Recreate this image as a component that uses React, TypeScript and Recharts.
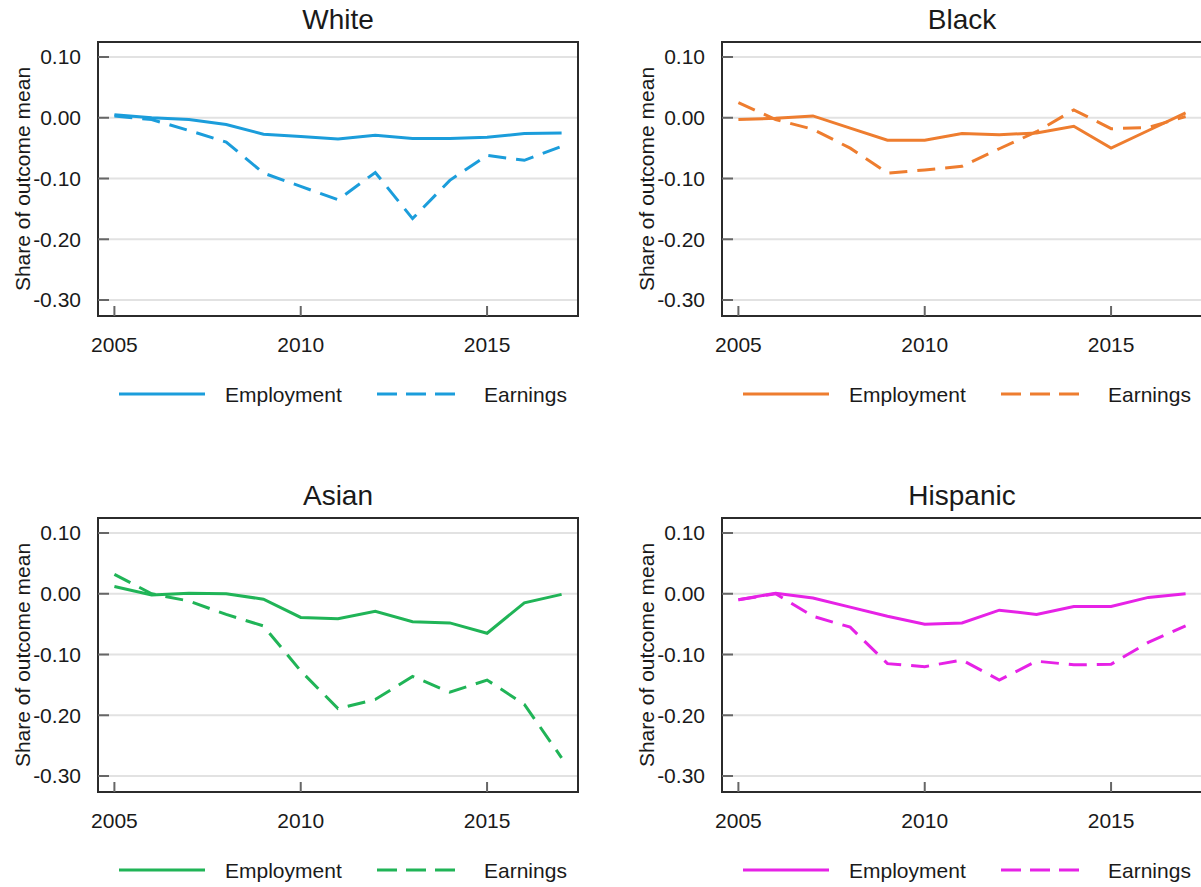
import React from 'react'
import {
  LineChart, Line, XAxis, YAxis, CartesianGrid, ReferenceArea, Legend,
} from 'recharts'

const years = [2005, 2006, 2007, 2008, 2009, 2010, 2011, 2012, 2013, 2014, 2015, 2016, 2017]

const whiteEmployment = [0.005, 0.0, -0.003, -0.011, -0.027, -0.031, -0.035, -0.029, -0.034, -0.034, -0.032, -0.026, -0.025]
const whiteEarnings = [0.003, -0.003, -0.021, -0.04, -0.091, -0.113, -0.135, -0.09, -0.166, -0.103, -0.062, -0.07, -0.047]

const blackEmployment = [-0.003, -0.001, 0.003, -0.017, -0.037, -0.037, -0.026, -0.028, -0.025, -0.014, -0.05, -0.021, 0.008]
const blackEarnings = [0.025, -0.003, -0.019, -0.05, -0.091, -0.086, -0.08, -0.051, -0.023, 0.013, -0.018, -0.016, 0.002]

const asianEmployment = [0.012, -0.002, 0.001, 0.0, -0.009, -0.039, -0.041, -0.029, -0.046, -0.048, -0.065, -0.015, -0.001]
const asianEarnings = [0.032, 0.0, -0.012, -0.034, -0.053, -0.127, -0.189, -0.174, -0.136, -0.162, -0.142, -0.182, -0.27]

const hispanicEmployment = [-0.01, 0.001, -0.007, -0.022, -0.037, -0.05, -0.048, -0.027, -0.034, -0.021, -0.021, -0.006, 0.0]
const hispanicEarnings = [-0.01, 0.0, -0.037, -0.055, -0.115, -0.12, -0.109, -0.142, -0.111, -0.117, -0.116, -0.08, -0.053]

const xTicks = [2005, 2010, 2015]
const yTicks = [0.1, 0.0, -0.1, -0.2, -0.3]

const FONT = "'Liberation Sans', Arial, sans-serif"
const TEXT = '#1a1a1a'
const X_DOMAIN: [number, number] = [2004.56, 2017.44]
const Y_DOMAIN: [number, number] = [-0.3263, 0.1247]

const W = 600
const H = 420
const PLOT_LEFT = 98
const PLOT_TOP = 42
const PLOT_RIGHT = 578
const PLOT_BOTTOM = 316

const YTick = (props: any) => {
  const { x, y, payload } = props
  return (
    <g>
      <line x1={PLOT_LEFT} x2={PLOT_LEFT + 11} y1={y} y2={y} stroke="#666" strokeWidth={2} />
      <text x={x} y={y} dy="0.35em" textAnchor="end" fontSize={21} fontFamily={FONT} fill={TEXT}>
        {payload.value.toFixed(2)}
      </text>
    </g>
  )
}

const XTick = (props: any) => {
  const { x, y, payload } = props
  return (
    <g>
      <line x1={x} x2={x} y1={PLOT_BOTTOM} y2={PLOT_BOTTOM - 10} stroke="#666" strokeWidth={2} />
      <text x={x} y={y + 35.5} textAnchor="middle" fontSize={21} fontFamily={FONT} fill={TEXT}>
        {payload.value}
      </text>
    </g>
  )
}

const YTitle = () => (
  <text
    x={23}
    y={(PLOT_TOP + PLOT_BOTTOM) / 2}
    transform={`rotate(-90 23 ${(PLOT_TOP + PLOT_BOTTOM) / 2})`}
    textAnchor="middle"
    dy="0.35em"
    fontSize={21}
    fontFamily={FONT}
    fill={TEXT}
  >
    Share of outcome mean
  </text>
)

function makeLegend(color: string) {
  return () => (
    <svg width={W} height={30} style={{ display: 'block' }}>
      <line x1={119} x2={205} y1={15} y2={15} stroke={color} strokeWidth={3} />
      <text x={225} y={22.5} fontSize={21} fontFamily={FONT} fill={TEXT}>Employment</text>
      <line x1={377} x2={456} y1={15} y2={15} stroke={color} strokeWidth={3} strokeDasharray="20 9" />
      <text x={484} y={22.5} fontSize={21} fontFamily={FONT} fill={TEXT}>Earnings</text>
    </svg>
  )
}

interface PanelProps {
  title: string
  color: string
  employment: number[]
  earnings: number[]
  left: number
  top: number
}

function Panel({ title, color, employment, earnings, left, top }: PanelProps) {
  const data = years.map((year, i) => ({
    year,
    Employment: employment[i],
    Earnings: earnings[i],
  }))

  return (
    <div style={{ position: 'absolute', left, top, width: W, height: H }}>
      <div
        style={{
          position: 'absolute', left: PLOT_LEFT, top: 4, width: PLOT_RIGHT - PLOT_LEFT,
          textAlign: 'center', fontFamily: FONT, fontSize: 28, lineHeight: '32px', color: TEXT,
        }}
      >
        {title}
      </div>
      <LineChart
        width={W}
        height={H}
        data={data}
        margin={{ top: PLOT_TOP, right: W - PLOT_RIGHT, bottom: H - PLOT_BOTTOM - 30, left: 0 }}
      >
        <CartesianGrid vertical={false} stroke="#e2e2e2" strokeWidth={2} />
        <XAxis
          dataKey="year"
          type="number"
          domain={X_DOMAIN}
          ticks={xTicks}
          height={30}
          axisLine={false}
          tickLine={false}
          tickSize={0}
          tickMargin={0}
          tick={<XTick />}
          interval={0}
        />
        <YAxis
          type="number"
          domain={Y_DOMAIN}
          ticks={yTicks}
          width={PLOT_LEFT}
          axisLine={false}
          tickLine={false}
          tickSize={0}
          tickMargin={17}
          tick={<YTick />}
          interval={0}
          allowDataOverflow
          label={<YTitle />}
        />
        <ReferenceArea
          x1={X_DOMAIN[0]}
          x2={X_DOMAIN[1]}
          y1={Y_DOMAIN[0]}
          y2={Y_DOMAIN[1]}
          fill="none"
          fillOpacity={0}
          stroke="#2b2b2b"
          strokeWidth={2}
          ifOverflow="visible"
        />
        <Line
          type="linear"
          dataKey="Employment"
          stroke={color}
          strokeWidth={3}
          dot={false}
          isAnimationActive={false}
        />
        <Line
          type="linear"
          dataKey="Earnings"
          stroke={color}
          strokeWidth={3}
          strokeDasharray="18 10"
          dot={false}
          isAnimationActive={false}
        />
        <Legend
          layout="horizontal"
          verticalAlign="middle"
          align="center"
          content={makeLegend(color)}
          wrapperStyle={{ top: 379, left: 0, width: W, height: 30 }}
        />
      </LineChart>
    </div>
  )
}

export default function App() {
  return (
    <div style={{ position: 'absolute', left: 0, top: 0, width: 1201, height: 887, overflow: 'hidden', background: '#fff' }}>
      <Panel title="White" color="#1b9ddb" employment={whiteEmployment} earnings={whiteEarnings} left={0} top={0} />
      <Panel title="Black" color="#ee7d2f" employment={blackEmployment} earnings={blackEarnings} left={624} top={0} />
      <Panel title="Asian" color="#20b457" employment={asianEmployment} earnings={asianEarnings} left={0} top={476} />
      <Panel title="Hispanic" color="#e622e6" employment={hispanicEmployment} earnings={hispanicEarnings} left={624} top={476} />
    </div>
  )
}
